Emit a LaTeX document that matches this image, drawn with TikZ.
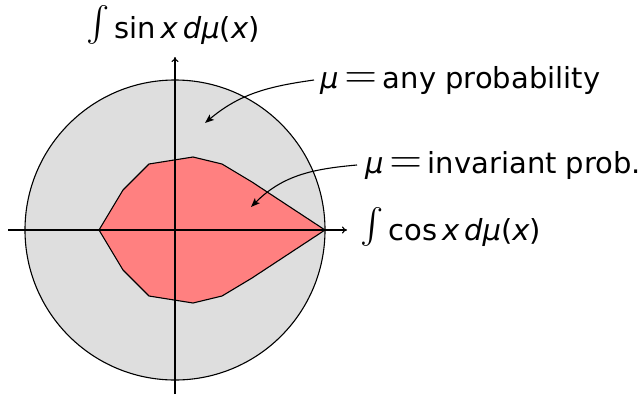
\documentclass[tikz,border=0pt]{standalone}
\usepackage{fontspec}
\setmainfont{DejaVu Sans}
\usetikzlibrary{arrows.meta}
\newcommand\mi[1]{\textit{#1}}
\newcommand\myint{\smash{\raisebox{-9pt}{\scalebox{3.5}{$\int$}}}}
\newcommand\myeq{\hspace{6pt}\scalebox{1.8}{$=$}\hspace{6pt}}
\begin{document}
\begin{tikzpicture}[x=1pt,y=-1pt,
  lab/.style={inner sep=0pt,font=\fontsize{29}{34}\selectfont},
  ax/.style={line width=1.1pt,-{To[length=5pt,width=7pt]}},
  pt/.style={line width=1.1pt,-{Stealth[length=9pt,width=7pt,inset=2pt]}}]
\useasboundingbox (0,0) rectangle (639,394);
\coordinate (O) at (175,230);
\draw[line width=1.1pt,fill={rgb,255:red,222;green,222;blue,222}] (O) circle[radius=150];
\draw[line width=1.1pt,fill={rgb,255:red,255;green,128;blue,128},line join=round]
  (99,230) -- (123,190) -- (149,164) -- (193,157) -- (222,164) -- (252,182) -- (325,230)
  -- (252,278) -- (222,296) -- (193,303) -- (149,296) -- (123,270) -- cycle;
\coordinate (xl) at (8,230);
\coordinate (xr) at (347,230);
\coordinate (yb) at (175,394);
\coordinate (yt) at (175,57);
\draw[ax] (xl) -- (xr);
\draw[ax] (yb) -- (yt);
\node[lab,anchor=base west] (cosl) at (360,240) {\myint\,cos\,\mi{x}\,\mi{dμ}(\mi{x})};
\node[lab,anchor=base] (sinl) at (173,38) {\myint\,sin\,\mi{x}\,\mi{dμ}(\mi{x})};
\node[lab,anchor=west] (lab1) at (320,80) {\mi{μ}\myeq any probability};
\node[lab,anchor=west] (lab2) at (365,165) {\mi{μ}\myeq invariant prob.};
\coordinate (p1) at (205,123);
\coordinate (p2) at (251,207);
\draw[pt] ([xshift=-6pt]lab1.west) to[out=188,in=40] (p1);
\draw[pt] ([xshift=-8pt]lab2.west) to[out=185,in=45] (p2);
\end{tikzpicture}
\end{document}
